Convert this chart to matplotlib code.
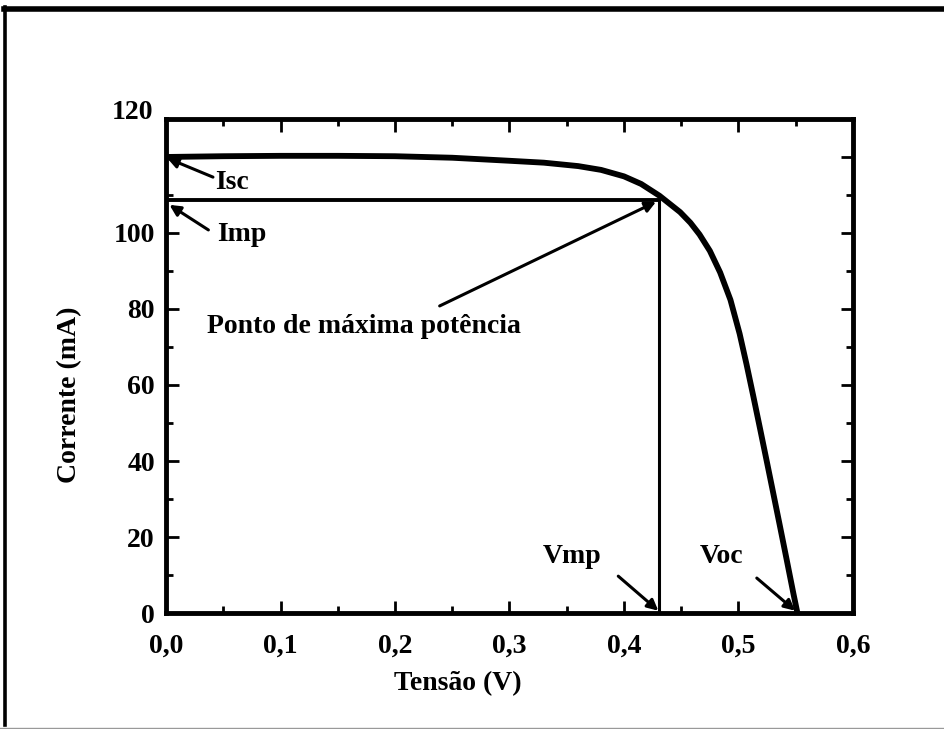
import matplotlib
matplotlib.use("Agg")
import matplotlib.pyplot as plt
from matplotlib.lines import Line2D
from matplotlib.ticker import MultipleLocator

plt.rcParams["font.family"] = "Liberation Serif"
plt.rcParams["font.weight"] = "bold"
plt.rcParams["axes.labelweight"] = "bold"

# curva I-V da celula (tensao em V, corrente em mA)
tensao = [0.0, 0.05, 0.10, 0.15, 0.20, 0.25, 0.30, 0.33, 0.36, 0.38, 0.40, 0.415, 0.431,
          0.449, 0.458, 0.466, 0.475, 0.484, 0.493, 0.501, 0.507, 0.513, 0.519, 0.525,
          0.530, 0.536, 0.542, 0.548, 0.5515]
corrente = [120.0, 120.2, 120.3, 120.3, 120.2, 119.8, 119.0, 118.5, 117.6, 116.6, 114.9, 112.9, 109.8,
            105.5, 102.7, 99.6, 95.3, 89.6, 82.4, 73.5, 65.5, 57.0, 48.3, 39.5,
            32.1, 23.2, 14.2, 5.1, 0.0]

isc = 120.0
imp = 108.7
vmp = 0.431
voc = 0.5515

x_ticks = [0.0, 0.1, 0.2, 0.3, 0.4, 0.5, 0.6]
x_labels = ["0,0", "0,1", "0,2", "0,3", "0,4", "0,5", "0,6"]
y_ticks = [0, 20, 40, 60, 80, 100, 120]
y_labels = ["0", "20", "40", "60", "80", "100", ""]

fig = plt.figure(figsize=(9.45, 7.29), dpi=100)
ax = fig.add_axes([0.1757, 0.1591, 0.7269, 0.6777])

ax.plot(tensao, corrente, color="black", lw=4.2, solid_joinstyle="round", zorder=3)
ax.plot([0, vmp], [imp, imp], color="black", lw=2.8)
ax.plot([vmp, vmp], [0, imp], color="black", lw=2.2)

ax.set_xlim(0, 0.6)
ax.set_ylim(0, 130)
ax.set_xticks(x_ticks)
ax.set_xticklabels(x_labels)
ax.set_yticks(y_ticks)
ax.set_yticklabels(y_labels)
ax.xaxis.set_minor_locator(MultipleLocator(0.05))
ax.yaxis.set_minor_locator(MultipleLocator(10))
ax.tick_params(which="both", direction="in", top=True, right=True, width=2, labelsize=20)
ax.tick_params(which="major", length=9)
ax.tick_params(which="minor", length=5)
ax.tick_params(axis="x", pad=15)
ax.tick_params(axis="y", pad=8)
for s in ax.spines.values():
    s.set_linewidth(3.5)

ax.text(-0.011, 131.6, "120", ha="right", va="center", fontsize=20, clip_on=False)

ax.set_xlabel("Tensão (V)", fontsize=20)
ax.set_ylabel("Corrente (mA)", fontsize=20)
ax.xaxis.set_label_coords(0.425, -0.117)
ax.yaxis.set_label_coords(-0.122, 0.441)

seta = dict(arrowstyle="-|>", color="black", lw=2.2, mutation_scale=16, shrinkA=0, shrinkB=0)
ax.annotate("", xy=(0.001, 119.7), xytext=(0.041, 114.7), arrowprops=seta, annotation_clip=False)
ax.text(0.043, 113.4, "Isc", ha="left", va="center", fontsize=20)
ax.annotate("", xy=(0.428, 108.2), xytext=(0.239, 80.8), arrowprops=seta)
ax.annotate("", xy=(0.003, 107.4), xytext=(0.037, 100.8), arrowprops=seta, annotation_clip=False)
ax.text(0.045, 99.5, "Imp", ha="left", va="center", fontsize=20)
ax.text(0.036, 75.5, "Ponto de máxima potência", ha="left", va="center", fontsize=20)
ax.annotate("", xy=(vmp - 0.001, 0.6), xytext=(0.395, 9.7), arrowprops=seta, annotation_clip=False)
ax.text(0.3546, 14.8, "Vmp", ha="center", va="center", fontsize=20)
ax.annotate("", xy=(voc - 0.002, 0.6), xytext=(0.516, 9.2), arrowprops=seta, annotation_clip=False)
ax.text(0.466, 14.8, "Voc", ha="left", va="center", fontsize=20)

# moldura da figura
fig.add_artist(Line2D([0.004, 1.0], [0.9876, 0.9876], transform=fig.transFigure, color="black", lw=4))
fig.add_artist(Line2D([0.0058, 0.0058], [0.005, 0.99], transform=fig.transFigure, color="black", lw=2.6))
fig.add_artist(Line2D([0.0, 1.0], [0.0015, 0.0015], transform=fig.transFigure, color="#999999", lw=1))

fig.savefig("out.png", dpi=100)
